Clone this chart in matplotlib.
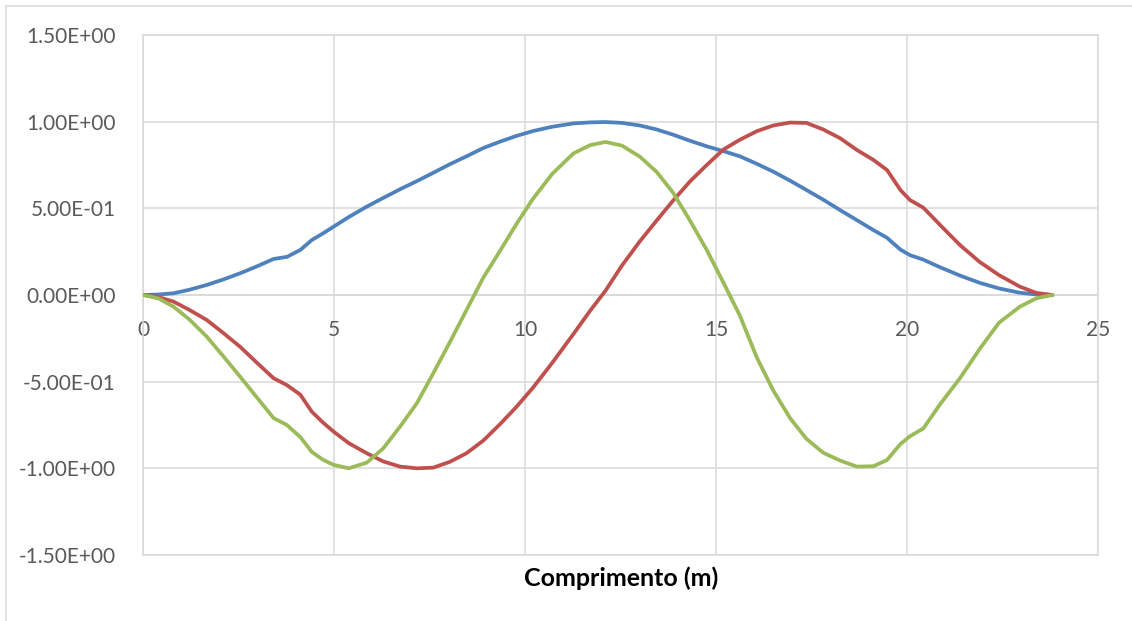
import matplotlib.pyplot as plt
from matplotlib.lines import Line2D

# positions along the span (m)
comprimento = [0, 0.40, 0.79, 1.20, 1.66, 2.10, 2.53, 2.97, 3.41, 3.76, 4.11, 4.41,
               4.70, 4.98, 5.38, 5.85, 6.28, 6.72, 7.16, 7.59, 8.03, 8.46, 8.90, 9.34,
               9.77, 10.20, 10.71, 11.26, 11.70, 12.10, 12.53, 13.00, 13.44, 13.87, 14.31, 14.75,
               15.19, 15.62, 16.06, 16.49, 16.93, 17.36, 17.80, 18.24, 18.68, 19.11, 19.47, 19.82,
               20.07, 20.42, 20.86, 21.38, 21.90, 22.40, 22.95, 23.38, 23.80]

# normalised mode shapes
modo_1 = [0, 0.003, 0.010, 0.030, 0.058, 0.090, 0.125, 0.165, 0.208, 0.220, 0.260, 0.317,
          0.355, 0.394, 0.450, 0.510, 0.560, 0.610, 0.657, 0.705, 0.755, 0.800, 0.848, 0.885,
          0.918, 0.946, 0.971, 0.990, 0.996, 0.998, 0.993, 0.978, 0.955, 0.925, 0.890, 0.858,
          0.830, 0.800, 0.757, 0.712, 0.660, 0.606, 0.550, 0.490, 0.432, 0.375, 0.330, 0.262,
          0.230, 0.204, 0.160, 0.112, 0.070, 0.038, 0.013, 0.003, 0]
modo_2 = [0, -0.012, -0.038, -0.085, -0.144, -0.220, -0.298, -0.390, -0.480, -0.520, -0.575, -0.673,
          -0.735, -0.788, -0.855, -0.913, -0.960, -0.990, -1.000, -0.996, -0.962, -0.913, -0.840, -0.745,
          -0.645, -0.535, -0.390, -0.225, -0.090, 0.025, 0.170, 0.310, 0.430, 0.545, 0.655, 0.750,
          0.840, 0.896, 0.945, 0.978, 0.995, 0.993, 0.955, 0.905, 0.837, 0.780, 0.721, 0.606,
          0.548, 0.504, 0.404, 0.288, 0.190, 0.115, 0.048, 0.012, 0]
modo_3 = [0, -0.020, -0.067, -0.140, -0.240, -0.355, -0.470, -0.590, -0.710, -0.750, -0.820, -0.905,
          -0.950, -0.980, -1.000, -0.967, -0.885, -0.760, -0.625, -0.452, -0.270, -0.087, 0.100, 0.255,
          0.410, 0.555, 0.700, 0.817, 0.865, 0.883, 0.862, 0.798, 0.710, 0.590, 0.430, 0.260,
          0.070, -0.120, -0.360, -0.550, -0.710, -0.830, -0.910, -0.955, -0.990, -0.988, -0.952, -0.860,
          -0.815, -0.770, -0.630, -0.480, -0.310, -0.160, -0.067, -0.019, 0]

x_ticks = [0, 5, 10, 15, 20, 25]
y_ticks = [-1.5, -1.0, -0.5, 0.0, 0.5, 1.0, 1.5]

grid_col = '#D9D9D9'
plt.rcParams['font.family'] = ['Lato', 'DejaVu Sans']

fig = plt.figure(figsize=(11.32, 6.21), dpi=100)
ax = fig.add_axes([0.1266, 0.1063, 0.8436, 0.8373])

for serie, cor in [(modo_1, '#4F81BD'), (modo_2, '#C0504D'), (modo_3, '#9BBB59')]:
    ax.plot(comprimento, serie, color=cor, lw=2.7, zorder=3,
            solid_capstyle='round', solid_joinstyle='round')

ax.set_xlim(0, 25)
ax.set_ylim(-1.5, 1.5)
ax.set_xticks(x_ticks)
ax.set_yticks(y_ticks)
ax.set_yticklabels([f"{v:.2E}" for v in y_ticks])
ax.grid(True, color=grid_col, lw=1.1, zorder=0)
ax.set_axisbelow(True)

# horizontal axis crosses at zero, labels hang just below it
for s in ['left', 'right', 'top', 'bottom']:
    ax.spines[s].set_color(grid_col)
    ax.spines[s].set_linewidth(1.1)
ax.spines['bottom'].set_position(('data', 0))
ax.axhline(-1.5, color=grid_col, lw=1.1, clip_on=False, zorder=1)

ax.tick_params(axis='both', length=0, labelsize=15, labelcolor='#595959')
ax.tick_params(axis='y', pad=20)
ax.tick_params(axis='x', pad=18)

fig.text(0.5484, 0.069, 'Comprimento (m)', ha='center', va='center',
         fontsize=18, fontweight='bold', color='black')

# outer chart frame
fig.add_artist(Line2D([0.005, 1.0], [0.99, 0.99], color=grid_col, lw=1.1))
fig.add_artist(Line2D([0.005, 0.005], [0.0, 0.99], color=grid_col, lw=1.1))

fig.savefig('out.png', dpi=100, facecolor='white')
